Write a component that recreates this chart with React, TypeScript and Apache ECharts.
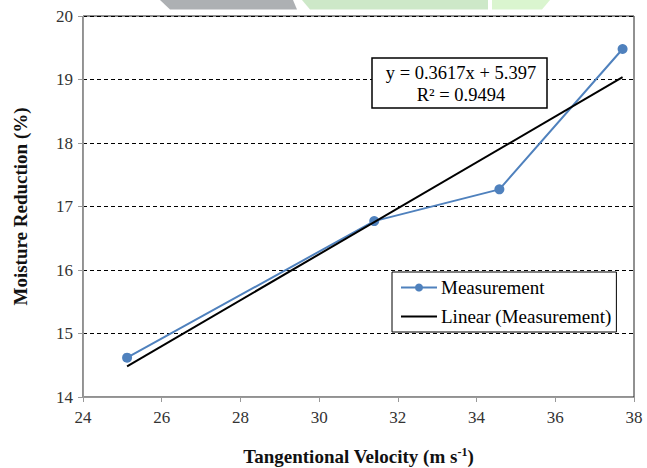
import React, { useEffect, useRef } from "react";
import * as echarts from "echarts";

const velocity = [25.12, 31.4, 34.58, 37.71];
const moisture = [14.62, 16.77, 17.27, 19.48];
const slope = 0.3617;
const intercept = 5.397;
const rSquared = "0.9494";
const xTicks = { min: 24, max: 38, interval: 2 };
const yTicks = { min: 14, max: 20, interval: 1 };

const FONT = "Liberation Serif";

export default function App() {
  const ref = useRef<HTMLDivElement>(null);
  useEffect(() => {
    if (!ref.current) return;
    const chart = echarts.init(ref.current, null, { renderer: "svg" });
    const measured = velocity.map((v, i) => [v, moisture[i]]);
    const xs = [velocity[0], velocity[velocity.length - 1]];
    const trend = xs.map((x) => [x, slope * x + intercept]);
    chart.setOption({
      animation: false,
      backgroundColor: "#ffffff",
      textStyle: { fontFamily: FONT },
      grid: {
        left: 83,
        right: 13,
        top: 16,
        bottom: 71,
        outerBoundsMode: "none",
        containLabel: false,
        show: true,
        borderColor: "#222",
        borderWidth: 1,
        backgroundColor: "transparent",
      },
      graphic: [
        {
          type: "polygon",
          silent: true,
          shape: { points: [[160, 0], [293, 0], [297, 9.5], [170, 9.5]] },
          style: { fill: "#adb0b3" },
        },
        {
          type: "polygon",
          silent: true,
          shape: { points: [[302, 0], [488, 0], [488, 9.5], [310, 9.5]] },
          style: { fill: "#cde8c8" },
        },
        {
          type: "polygon",
          silent: true,
          shape: { points: [[492, 0], [550, 0], [542, 9.5], [492, 9.5]] },
          style: { fill: "#daf5cf" },
        },
        {
          type: "rect",
          z: 100,
          shape: { x: 372, y: 58, width: 175, height: 50 },
          style: { fill: "#fff", stroke: "#000", lineWidth: 1.5 },
        },
        {
          type: "text",
          z: 101,
          x: 461,
          y: 73,
          style: {
            text: `y = ${slope}x + ${intercept}`,
            fontFamily: FONT,
            fontSize: 18.5,
            fill: "#000",
            align: "center",
            verticalAlign: "middle",
          },
        },
        {
          type: "text",
          z: 101,
          x: 461,
          y: 95,
          style: {
            text: `R² = ${rSquared}`,
            fontFamily: FONT,
            fontSize: 18.5,
            fill: "#000",
            align: "center",
            verticalAlign: "middle",
          },
        },
      ],
      legend: {
        orient: "vertical",
        left: 392,
        top: 272,
        padding: [6, 5, 6, 8],
        itemGap: 10,
        itemWidth: 36,
        itemHeight: 10,
        borderColor: "#000",
        borderWidth: 1,
        backgroundColor: "#fff",
        textStyle: { fontFamily: FONT, fontSize: 19, color: "#000", padding: [0, 0, 0, -1], lineHeight: 19 },
        data: [
          "Measurement",
          { name: "Linear (Measurement)", itemStyle: { opacity: 0 } },
        ],
      },
      xAxis: {
        type: "value",
        min: xTicks.min,
        max: xTicks.max,
        interval: xTicks.interval,
        name: "Tangentional Velocity (m s{sup|-1})",
        nameLocation: "middle",
        nameGap: 49,
        nameTextStyle: {
          fontFamily: FONT,
          fontSize: 19,
          fontWeight: "bold",
          color: "#111",
          rich: {
            sup: {
              fontFamily: FONT,
              fontSize: 12,
              fontWeight: "bold",
              verticalAlign: "bottom",
              padding: [0, 0, 9, 0],
              color: "#111",
            },
          },
        },
        axisLine: { show: true, lineStyle: { color: "#999", width: 1 } },
        axisTick: { show: true, inside: false, length: 5, lineStyle: { color: "#999" } },
        axisLabel: { fontFamily: FONT, fontSize: 17, color: "#333", margin: 12 },
        splitLine: { show: false },
      },
      yAxis: {
        type: "value",
        min: yTicks.min,
        max: yTicks.max,
        interval: yTicks.interval,
        name: "Moisture Reduction (%)",
        nameLocation: "middle",
        nameGap: 53,
        nameTextStyle: { fontFamily: FONT, fontSize: 19, fontWeight: "bold", color: "#111" },
        axisLine: { show: true, lineStyle: { color: "#999", width: 1 } },
        axisTick: { show: true, inside: false, length: 5, lineStyle: { color: "#999" } },
        axisLabel: { fontFamily: FONT, fontSize: 17, color: "#333", margin: 10 },
        splitLine: { show: true, lineStyle: { color: "#000", type: [4, 3], width: 1 } },
      },
      series: [
        {
          name: "Measurement",
          type: "line",
          data: measured,
          symbol: "circle",
          symbolSize: 10,
          itemStyle: { color: "#4f81bd" },
          lineStyle: { color: "#4f81bd", width: 2 },
          z: 3,
        },
        {
          name: "Linear (Measurement)",
          type: "line",
          data: trend,
          symbol: "none",
          showSymbol: false,
          itemStyle: { color: "#000" },
          lineStyle: { color: "#000", width: 2 },
          z: 4,
        },
      ],
    });
    return () => chart.dispose();
  }, []);
  return <div ref={ref} style={{ width: 647, height: 468, position: "absolute", left: 0, top: 0 }} />;
}
